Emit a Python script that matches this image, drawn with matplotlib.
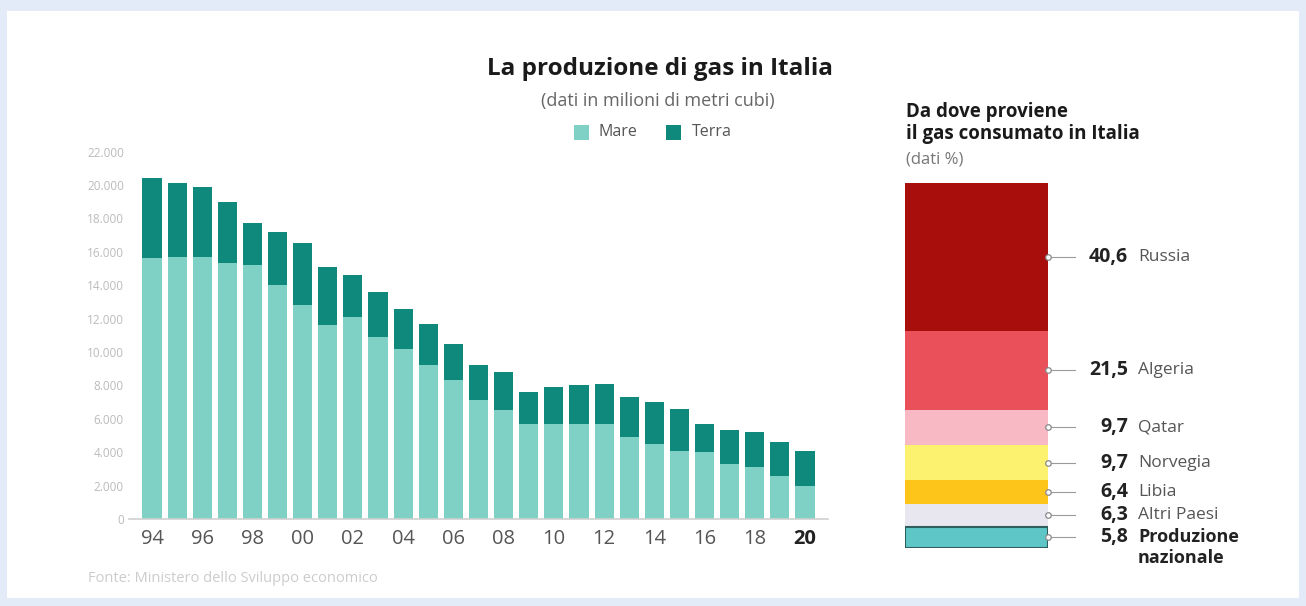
import numpy as np
import matplotlib.pyplot as plt
from matplotlib.patches import Rectangle

plt.rcParams['font.family'] = ['Open Sans', 'DejaVu Sans']

# produzione nazionale (milioni di metri cubi)
years = ['94', '95', '96', '97', '98', '99', '00', '01', '02', '03', '04', '05', '06', '07',
         '08', '09', '10', '11', '12', '13', '14', '15', '16', '17', '18', '19', '20']
totale = [20400, 20100, 19900, 19000, 17700, 17200, 16500, 15100, 14600, 13600, 12600, 11700, 10500, 9200,
          8800, 7600, 7900, 8000, 8100, 7300, 7000, 6600, 5700, 5300, 5200, 4600, 4100]
mare = [15600, 15700, 15700, 15300, 15200, 14000, 12800, 11600, 12100, 10900, 10200, 9200, 8300, 7100,
        6500, 5700, 5700, 5700, 5700, 4900, 4500, 4100, 4000, 3300, 3100, 2600, 2000]
terra = [t - m for t, m in zip(totale, mare)]
xtick_years = ['94', '96', '98', '00', '02', '04', '06', '08', '10', '12', '14', '16', '18', '20']
yticks = [0, 2000, 4000, 6000, 8000, 10000, 12000, 14000, 16000, 18000, 20000, 22000]

# provenienza del gas consumato (%)
paesi = ['Russia', 'Algeria', 'Qatar', 'Norvegia', 'Libia', 'Altri Paesi', 'Produzione\nnazionale']
quote = [40.6, 21.5, 9.7, 9.7, 6.4, 6.3, 5.8]
colori_paesi = ['#a80f0c', '#e9505a', '#f8b8c4', '#fdf170', '#fdc41a', '#e8e6ef', '#5ec6c6']

c_mare = '#7fd0c5'
c_terra = '#10897d'

W, H = 1306, 606
fig = plt.figure(figsize=(W / 100, H / 100), dpi=100)
fig.patch.set_facecolor('#e2ebf7')
fig.add_artist(Rectangle((7 / W, 8 / H), (W - 14) / W, (H - 19) / H, transform=fig.transFigure,
                         facecolor='white', edgecolor='none', zorder=0))

# --- grafico a barre ---
ax = fig.add_axes([129.4 / W, (H - 519) / H, 698.2 / W, 367.4 / H])
ax.set_facecolor('none')
x = np.arange(len(years))
ax.bar(x, mare, width=0.76, color=c_mare, zorder=2)
ax.bar(x, terra, bottom=mare, width=0.76, color=c_terra, zorder=2)
ax.set_xlim(-0.9, len(years) - 0.1)
ax.set_ylim(0, 22000)
for s in ['top', 'right', 'left']:
    ax.spines[s].set_visible(False)
ax.spines['bottom'].set_color('#cfcfcf')
ax.spines['bottom'].set_linewidth(1.2)
ax.set_yticks(yticks)
ax.set_yticklabels([f'{v:,}'.replace(',', '.') for v in yticks])
ax.tick_params(axis='y', length=0, pad=4, labelsize=8.5, labelcolor='#bbbbbb')
ax.set_xticks([years.index(y) for y in xtick_years])
ax.set_xticklabels(xtick_years)
ax.tick_params(axis='x', length=0, pad=7, labelsize=14.5, labelcolor='#555555')
ax.get_xticklabels()[-1].set_fontweight('bold')
ax.get_xticklabels()[-1].set_color('#222222')

fig.text(660 / W, 1 - 69 / H, 'La produzione di gas in Italia', ha='center', va='center',
         fontsize=17.5, fontweight='bold', color='#1a1a1a')
fig.text(658 / W, 1 - 101 / H, '(dati in milioni di metri cubi)', ha='center', va='center',
         fontsize=13, color='#666666')
fig.add_artist(Rectangle((574 / W, 1 - 140 / H), 15 / W, 15 / H, transform=fig.transFigure,
                         facecolor=c_mare, edgecolor='none'))
fig.text(599 / W, 1 - 132 / H, 'Mare', ha='left', va='center', fontsize=11.5, color='#555555')
fig.add_artist(Rectangle((666 / W, 1 - 140 / H), 15 / W, 15 / H, transform=fig.transFigure,
                         facecolor=c_terra, edgecolor='none'))
fig.text(692 / W, 1 - 132 / H, 'Terra', ha='left', va='center', fontsize=11.5, color='#555555')
fig.text(88 / W, 1 - 578 / H, 'Fonte: Ministero dello Sviluppo economico', ha='left', va='center',
         fontsize=10.5, color='#cccccc')

# --- provenienza ---
ax2 = fig.add_axes([905 / W, (H - 548) / H, 143 / W, 365 / H])
ax2.set_xlim(0, 1)
ax2.set_ylim(100, 0)
ax2.axis('off')
base = 0
for i, (p, q, c) in enumerate(zip(paesi, quote, colori_paesi)):
    last = i == len(paesi) - 1
    ax2.bar(0.5, q, bottom=base, width=1, color=c,
            edgecolor='#2d5f5f' if last else 'none', linewidth=1.5 if last else 0)
    ym = base + q / 2
    ax2.plot([1.0, 1.19], [ym, ym], color='#9a9a9a', lw=0.8, clip_on=False)
    ax2.plot(1.0, ym, 'o', ms=4, mfc='white', mec='#888888', mew=0.9, clip_on=False)
    ax2.text(1.56, ym, f'{q}'.replace('.', ','), ha='right', va='center', fontsize=14,
             fontweight='bold', color='#222222')
    ax2.text(1.63, ym, p, ha='left', va='top' if last else 'center', fontsize=13 if last else 12.5,
             fontweight='bold' if last else 'normal', color='#222222' if last else '#555555',
             linespacing=1.25)
    base += q
# riallinea l'etichetta su due righe
ax2.texts[-1].set_y(base - quote[-1] / 2 - 2.6)

fig.text(906 / W, 1 - 123 / H, 'Da dove proviene\nil gas consumato in Italia', ha='left', va='center',
         fontsize=13.5, fontweight='bold', color='#1a1a1a', linespacing=1.2)
fig.text(906 / W, 1 - 160 / H, '(dati %)', ha='left', va='center', fontsize=12, color='#777777')

fig.savefig('out.png', dpi=100, facecolor=fig.get_facecolor())
